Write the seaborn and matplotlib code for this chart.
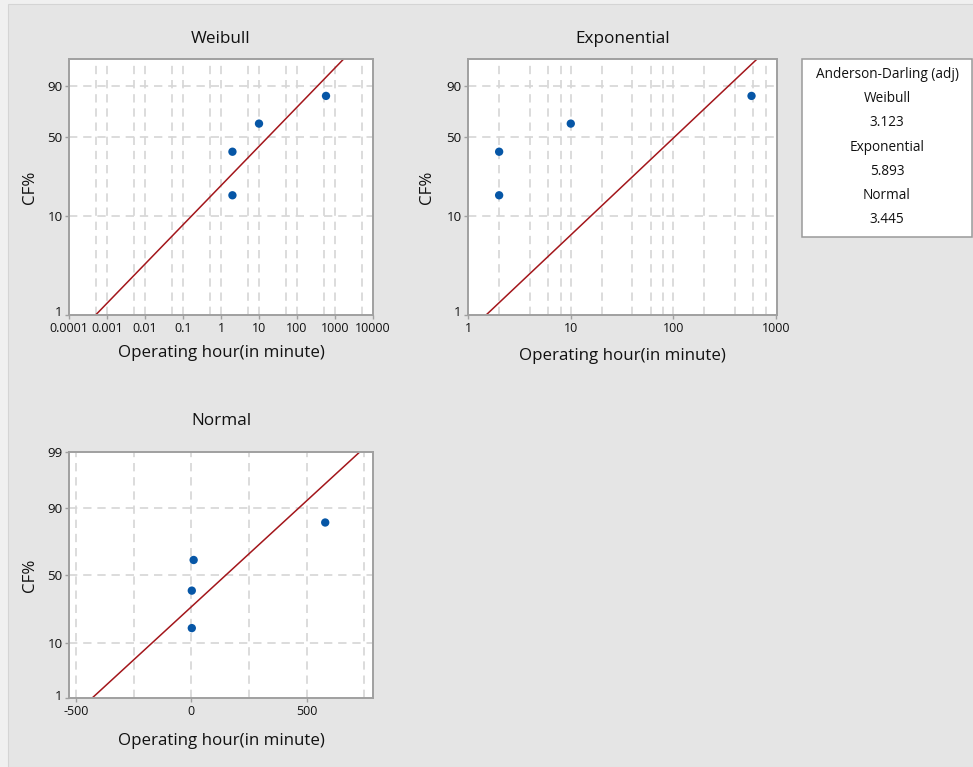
import numpy as np
import pandas as pd
import matplotlib
matplotlib.use("Agg")
import matplotlib.pyplot as plt
import matplotlib.transforms as mtransforms
from matplotlib.patches import Rectangle
from matplotlib.ticker import FixedLocator, FixedFormatter, NullFormatter
import seaborn as sns
from statistics import NormalDist

# Observed operating hours (minutes) and their median-rank cumulative failure %
operating_minutes = [2, 2, 10, 580]
cf_percent = [15.9, 38.6, 61.4, 84.1]

# Maximum-likelihood fit parameters for each distribution
weibull_shape = 0.405
weibull_scale = 43.0
exponential_mean = 148.5
normal_mean = 148.5
normal_sd = 249.1

# Goodness-of-fit summary
ad_names = ["Weibull", "Exponential", "Normal"]
ad_values = ["3.123", "5.893", "3.445"]

# Axis ticks and labels
weibull_xticks = [0.0001, 0.001, 0.01, 0.1, 1, 10, 100, 1000, 10000]
weibull_xlabels = ["0.0001", "0.001", "0.01", "0.1", "1", "10", "100", "1000", "10000"]
expo_xticks = [1, 10, 100, 1000]
expo_xlabels = ["1", "10", "100", "1000"]
normal_xticks = [-500, 0, 500]
normal_xlabels = ["-500", "0", "500"]
sev_yticks = [1, 10, 50, 90]
normal_yticks = [1, 10, 50, 90, 99]
grid_pcts = [10, 50, 90]

sns.set_style("white")
plt.rcParams["font.family"] = ["Open Sans", "DejaVu Sans"]

W, H = 973, 767
fig = plt.figure(figsize=(W / 100, H / 100), dpi=100)
fig.patch.set_facecolor("#f0f0f0")
fig.add_artist(Rectangle((8 / W, 0), 1, 1 - 4 / H, transform=fig.transFigure,
                         facecolor="#e5e5e5", edgecolor="#d4d4d4", lw=0.8, zorder=-10))


def px_axes(left, top, right, bottom):
    return fig.add_axes([left / W, 1 - bottom / H, (right - left) / W, (bottom - top) / H])


# probability scales
def sev_fwd(p):
    q = np.clip(np.asarray(p, dtype=float) / 100.0, 1e-12, 1 - 1e-12)
    return np.log(-np.log1p(-q))


def sev_inv(y):
    with np.errstate(over="ignore"):
        return 100.0 * (-np.expm1(-np.exp(np.asarray(y, dtype=float))))


_nd = NormalDist()
_ppf = np.vectorize(lambda q: _nd.inv_cdf(q) if np.isfinite(q) else np.nan, otypes=[float])
_cdf = np.vectorize(lambda z: _nd.cdf(z) if np.isfinite(z) else np.nan, otypes=[float])


def norm_fwd(p):
    q = np.clip(np.asarray(p, dtype=float) / 100.0, 1e-12, 1 - 1e-12)
    return _ppf(q)


def norm_inv(z):
    return 100.0 * _cdf(np.asarray(z, dtype=float))


POINT_C = "#0656a6"
LINE_C = "#a3161b"
GRID_C = "#d6d6d6"
SPINE_C = "#a0a0a0"
TEXT_C = "#111111"

points = pd.DataFrame({"minutes": operating_minutes, "cf": cf_percent})
lift = mtransforms.ScaledTranslation(0, 3.5 / 100, fig.dpi_scale_trans)


def style_axes(ax, xticks, xlabels, xgrid, yticks, title, title_pad, xlab_y, ylab_x):
    ax.set_facecolor("white")
    for s in ax.spines.values():
        s.set_color(SPINE_C)
        s.set_linewidth(1.4)
    ax.xaxis.remove_overlapping_locs = False
    ax.yaxis.remove_overlapping_locs = False
    ax.xaxis.set_major_locator(FixedLocator(xticks))
    ax.xaxis.set_major_formatter(FixedFormatter(xlabels))
    ax.xaxis.set_minor_locator(FixedLocator(xgrid))
    ax.xaxis.set_minor_formatter(NullFormatter())
    ax.yaxis.set_major_locator(FixedLocator(yticks))
    ax.yaxis.set_major_formatter(FixedFormatter([str(t) for t in yticks]))
    ax.yaxis.set_minor_locator(FixedLocator(grid_pcts))
    ax.yaxis.set_minor_formatter(NullFormatter())
    ax.tick_params(which="major", direction="out", length=3, width=1, color=SPINE_C,
                   labelcolor=TEXT_C, pad=1.5, bottom=True, left=True)
    ax.tick_params(axis="x", which="major", labelsize=9.0, pad=2.0)
    ax.tick_params(axis="y", which="major", labelsize=9.6)
    ax.tick_params(which="minor", length=0)
    ax.grid(False, which="major")
    ax.grid(True, which="minor", color=GRID_C, lw=1.2, linestyle=(0, (5, 3.5)))
    ax.set_axisbelow(True)
    ax.set_title(title, fontsize=12.3, color=TEXT_C, pad=title_pad)
    ax.set_xlabel("Operating hour(in minute)", fontsize=12.2, color=TEXT_C)
    ax.set_ylabel("CF%", fontsize=12.2, color=TEXT_C)
    ax.xaxis.set_label_coords(0.5, xlab_y)
    ax.yaxis.set_label_coords(ylab_x, 0.5)
    # the bottom "1" label sits just above the corner, clear of the x labels
    first = ax.yaxis.get_major_ticks()[0].label1
    first.set_transform(first.get_transform() + lift)


# ---------------- Weibull ----------------
ax1 = px_axes(69, 59, 373, 315)
w_ylim = (1, 98.8)
w_pct = np.array(w_ylim)
w_line = pd.DataFrame({
    "minutes": weibull_scale * (-np.log1p(-w_pct / 100.0)) ** (1.0 / weibull_shape),
    "cf": w_pct})
sns.lineplot(data=w_line, x="minutes", y="cf", ax=ax1, color=LINE_C, lw=1.1,
             sort=False, estimator=None)
sns.scatterplot(data=points, x="minutes", y="cf", ax=ax1, color=POINT_C, s=36,
                edgecolor="none", zorder=5)
ax1.set_xscale("log")
ax1.set_yscale("function", functions=(sev_fwd, sev_inv))
ax1.set_xlim(1e-4, 1e4)
ax1.set_ylim(*w_ylim)
w_grid = [m * 10.0 ** k for k in range(-4, 4) for m in (5, 10)]
w_grid = [g for g in w_grid if 1e-4 < g < 1e4]
style_axes(ax1, weibull_xticks, weibull_xlabels, w_grid, sev_yticks, "Weibull", 11.5,
           -0.117, -0.102)

# ---------------- Exponential ----------------
ax2 = px_axes(467.7, 59, 777.3, 315)
e_pct = np.array(w_ylim)
e_line = pd.DataFrame({
    "minutes": -exponential_mean * np.log1p(-e_pct / 100.0),
    "cf": e_pct})
sns.lineplot(data=e_line, x="minutes", y="cf", ax=ax2, color=LINE_C, lw=1.1,
             sort=False, estimator=None)
sns.scatterplot(data=points, x="minutes", y="cf", ax=ax2, color=POINT_C, s=36,
                edgecolor="none", zorder=5)
ax2.set_xscale("log")
ax2.set_yscale("function", functions=(sev_fwd, sev_inv))
ax2.set_xlim(0.987, 1035)
ax2.set_ylim(*w_ylim)
e_grid = [m * 10.0 ** k for k in range(0, 3) for m in (2, 4, 6, 8, 10)]
e_grid = [g for g in e_grid if g < 1000]
style_axes(ax2, expo_xticks, expo_xlabels, e_grid, sev_yticks, "Exponential", 11.5,
           -0.130, -0.106)

# ---------------- Normal ----------------
ax3 = px_axes(69, 452.3, 373, 698.3)
n_ylim = (1, 99)
n_pct = np.array(n_ylim)
n_line = pd.DataFrame({
    "minutes": normal_mean + normal_sd * norm_fwd(n_pct),
    "cf": n_pct})
sns.lineplot(data=n_line, x="minutes", y="cf", ax=ax3, color=LINE_C, lw=1.1,
             sort=False, estimator=None)
sns.scatterplot(data=points, x="minutes", y="cf", ax=ax3, color=POINT_C, s=36,
                edgecolor="none", zorder=5)
ax3.set_yscale("function", functions=(norm_fwd, norm_inv))
ax3.set_xlim(-530, 787)
ax3.set_ylim(*n_ylim)
style_axes(ax3, normal_xticks, normal_xlabels, [-500, -250, 0, 250, 500, 750],
           normal_yticks, "Normal", 19.5, -0.141, -0.102)

# ---------------- Anderson-Darling summary box ----------------
bx0, by0, bx1, by1 = 802, 59, 972, 236.5
fig.add_artist(Rectangle((bx0 / W, 1 - by1 / H), (bx1 - bx0) / W, (by1 - by0) / H,
                         transform=fig.transFigure, facecolor="white",
                         edgecolor="#9a9a9a", lw=1.1, zorder=2))
lines = ["Anderson-Darling (adj)"]
for name, val in zip(ad_names, ad_values):
    lines += [name, val]
for i, txt in enumerate(lines):
    fig.text(887 / W, 1 - (74.5 + i * 24.2) / H, txt, ha="center", va="center",
             fontsize=9.8, color=TEXT_C, zorder=3)

fig.savefig("out.png", dpi=100, facecolor=fig.get_facecolor())
